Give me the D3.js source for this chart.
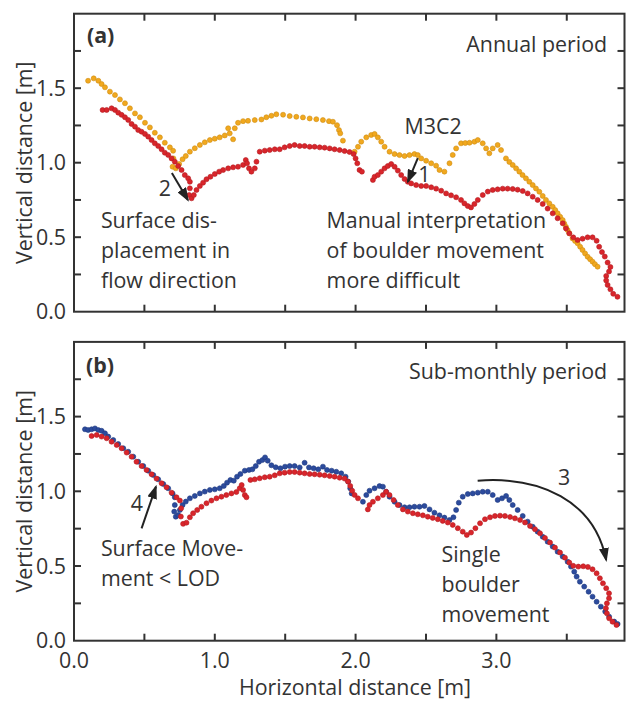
<!DOCTYPE html>
<html>
<head>
<meta charset="utf-8">
<script src="https://cdn.jsdelivr.net/npm/d3@7"></script>
<style>
body { margin: 0; background: #fff; }
text { font-family: "Open Sans", sans-serif; fill: #333; }
</style>
</head>
<body>
<script>
// profile points [horizontal m, vertical m]

// (a) annual period
const orangeA = [[0.10,1.55],[0.14,1.566],[0.173,1.55],[0.196,1.528],[0.22,1.506],[0.255,1.477],[0.291,1.454],[0.326,1.425],[0.362,1.399],[0.397,1.365],[0.433,1.331],[0.468,1.305],[0.504,1.268],[0.539,1.237],[0.574,1.201],[0.61,1.17],[0.645,1.134],[0.681,1.103],[0.704,1.08],[0.706,1.029],[0.70,0.973],[0.723,0.962],[0.747,0.991],[0.771,1.023],[0.794,1.045],[0.823,1.074],[0.858,1.097],[0.894,1.119],[0.929,1.137],[0.965,1.152],[1.0,1.161],[1.035,1.17],[1.071,1.183],[1.095,1.231],[1.106,1.197],[1.13,1.157],[1.142,1.231],[1.165,1.268],[1.201,1.279],[1.236,1.281],[1.284,1.286],[1.331,1.29],[1.366,1.305],[1.402,1.315],[1.437,1.325],[1.485,1.322],[1.532,1.313],[1.579,1.308],[1.626,1.304],[1.674,1.297],[1.721,1.292],[1.768,1.286],[1.811,1.279],[1.839,1.275],[1.868,1.252],[1.882,1.219],[1.891,1.197],[1.91,1.148],[1.993,1.074],[2.017,1.107],[2.04,1.141],[2.076,1.17],[2.111,1.186],[2.135,1.193],[2.158,1.17],[2.182,1.141],[2.206,1.107],[2.241,1.074],[2.277,1.058],[2.312,1.051],[2.348,1.045],[2.383,1.051],[2.418,1.058],[2.442,1.051],[2.466,1.029],[2.501,1.013],[2.537,0.996],[2.572,0.98],[2.596,0.951],[2.631,0.94],[2.667,0.996],[2.69,1.052],[2.714,1.096],[2.749,1.13],[2.779,1.132],[2.809,1.134],[2.844,1.141],[2.868,1.152],[2.903,1.13],[2.927,1.096],[2.95,1.063],[2.974,1.096],[3.009,1.119],[3.033,1.085],[3.068,1.029],[3.092,1.005],[3.116,0.985],[3.14,0.962],[3.163,0.94],[3.186,0.917],[3.21,0.895],[3.234,0.872],[3.258,0.85],[3.281,0.827],[3.305,0.805],[3.329,0.777],[3.352,0.75],[3.376,0.727],[3.40,0.704],[3.418,0.682],[3.435,0.66],[3.453,0.637],[3.471,0.615],[3.482,0.592],[3.494,0.57],[3.506,0.548],[3.518,0.526],[3.541,0.492],[3.559,0.475],[3.577,0.459],[3.595,0.436],[3.612,0.414],[3.63,0.391],[3.648,0.369],[3.666,0.352],[3.683,0.336],[3.70,0.319],[3.719,0.302]];

const redA = [[0.203,1.354],[0.232,1.354],[0.267,1.365],[0.291,1.354],[0.314,1.336],[0.338,1.321],[0.362,1.305],[0.385,1.287],[0.409,1.26],[0.433,1.242],[0.456,1.219],[0.48,1.208],[0.504,1.193],[0.527,1.175],[0.551,1.152],[0.574,1.13],[0.598,1.112],[0.622,1.09],[0.645,1.067],[0.669,1.052],[0.693,1.029],[0.716,1.007],[0.74,0.978],[0.764,0.951],[0.787,0.917],[0.811,0.895],[0.823,0.872],[0.823,0.828],[0.818,0.783],[0.835,0.761],[0.851,0.783],[0.87,0.817],[0.894,0.844],[0.917,0.866],[0.941,0.889],[0.969,0.906],[1.0,0.924],[1.031,0.94],[1.059,0.951],[1.095,0.962],[1.13,0.969],[1.165,0.973],[1.201,0.985],[1.22,1.018],[1.229,0.996],[1.243,0.962],[1.26,0.94],[1.284,0.962],[1.296,1.007],[1.319,1.074],[1.355,1.081],[1.39,1.085],[1.426,1.09],[1.461,1.09],[1.496,1.103],[1.532,1.112],[1.567,1.119],[1.603,1.112],[1.638,1.112],[1.674,1.107],[1.709,1.107],[1.745,1.103],[1.78,1.101],[1.816,1.096],[1.851,1.09],[1.887,1.085],[1.922,1.078],[1.957,1.072],[1.986,1.058],[2.0,1.029],[2.012,0.996],[2.028,0.951],[2.045,0.94],[2.123,0.884],[2.135,0.906],[2.158,0.917],[2.182,0.94],[2.206,0.962],[2.229,0.978],[2.253,0.991],[2.277,0.973],[2.3,0.947],[2.324,0.917],[2.348,0.89],[2.371,0.872],[2.395,0.861],[2.43,0.85],[2.466,0.844],[2.501,0.844],[2.537,0.835],[2.572,0.826],[2.608,0.812],[2.643,0.794],[2.678,0.781],[2.714,0.768],[2.749,0.75],[2.773,0.727],[2.797,0.709],[2.82,0.7],[2.844,0.723],[2.868,0.75],[2.903,0.783],[2.939,0.806],[2.974,0.817],[3.009,0.821],[3.045,0.826],[3.08,0.826],[3.116,0.824],[3.151,0.819],[3.187,0.81],[3.222,0.794],[3.258,0.772],[3.293,0.75],[3.329,0.723],[3.364,0.692],[3.4,0.66],[3.435,0.627],[3.471,0.593],[3.494,0.559],[3.518,0.526],[3.546,0.499],[3.577,0.481],[3.612,0.49],[3.648,0.499],[3.683,0.499],[3.712,0.476],[3.73,0.436],[3.75,0.40],[3.77,0.37],[3.79,0.33],[3.81,0.30],[3.80,0.27],[3.78,0.24],[3.78,0.21],[3.79,0.18],[3.81,0.15],[3.83,0.12],[3.86,0.10]];

// (b) sub-monthly period
const blueB = [[0.078,1.415],[0.10,1.41],[0.125,1.415],[0.149,1.421],[0.173,1.41],[0.196,1.405],[0.22,1.388],[0.243,1.366],[0.279,1.343],[0.314,1.317],[0.35,1.288],[0.385,1.265],[0.421,1.232],[0.456,1.198],[0.492,1.169],[0.527,1.138],[0.563,1.109],[0.598,1.08],[0.634,1.049],[0.669,1.02],[0.70,0.986],[0.716,0.96],[0.716,0.908],[0.712,0.864],[0.723,0.83],[0.74,0.841],[0.752,0.875],[0.771,0.908],[0.794,0.931],[0.823,0.953],[0.858,0.969],[0.894,0.986],[0.929,0.998],[0.965,1.009],[1.0,1.013],[1.035,1.02],[1.064,1.036],[1.087,1.058],[1.111,1.076],[1.135,1.071],[1.158,1.098],[1.182,1.116],[1.213,1.138],[1.243,1.143],[1.267,1.147],[1.291,1.169],[1.314,1.198],[1.338,1.209],[1.357,1.227],[1.376,1.205],[1.402,1.174],[1.433,1.161],[1.466,1.154],[1.499,1.165],[1.532,1.169],[1.567,1.169],[1.603,1.16],[1.638,1.191],[1.669,1.16],[1.702,1.154],[1.735,1.147],[1.768,1.165],[1.797,1.143],[1.83,1.138],[1.863,1.131],[1.898,1.12],[1.929,1.098],[1.948,1.065],[1.962,1.02],[1.972,0.986],[2.052,0.93],[2.076,0.975],[2.099,1.004],[2.135,1.02],[2.17,1.035],[2.194,1.031],[2.217,0.997],[2.241,0.964],[2.277,0.93],[2.312,0.908],[2.348,0.893],[2.383,0.893],[2.418,0.897],[2.454,0.897],[2.489,0.902],[2.525,0.879],[2.56,0.857],[2.596,0.839],[2.631,0.824],[2.667,0.808],[2.695,0.826],[2.714,0.875],[2.733,0.924],[2.761,0.964],[2.797,0.982],[2.832,0.986],[2.868,0.991],[2.903,0.997],[2.939,0.997],[2.974,0.975],[3.009,0.942],[3.04,0.953],[3.069,0.969],[3.092,0.942],[3.116,0.908],[3.151,0.875],[3.187,0.835],[3.222,0.797],[3.258,0.763],[3.293,0.73],[3.329,0.696],[3.364,0.663],[3.4,0.63],[3.435,0.596],[3.471,0.563],[3.506,0.529],[3.53,0.496],[3.553,0.462],[3.57,0.429],[3.593,0.395],[3.624,0.362],[3.655,0.328],[3.683,0.295],[3.712,0.261],[3.742,0.228],[3.773,0.195],[3.801,0.161],[3.837,0.128],[3.861,0.112]];

const redB = [[0.125,1.37],[0.161,1.377],[0.196,1.366],[0.232,1.355],[0.267,1.332],[0.303,1.31],[0.338,1.288],[0.374,1.259],[0.409,1.232],[0.444,1.198],[0.48,1.169],[0.515,1.143],[0.551,1.114],[0.586,1.085],[0.622,1.054],[0.657,1.027],[0.693,0.991],[0.728,0.96],[0.752,0.938],[0.761,0.886],[0.759,0.831],[0.775,0.782],[0.799,0.79],[0.823,0.826],[0.846,0.853],[0.875,0.875],[0.905,0.897],[0.941,0.92],[0.976,0.938],[1.012,0.953],[1.047,0.964],[1.082,0.975],[1.118,0.986],[1.153,0.995],[1.177,1.02],[1.191,1.042],[1.201,1.009],[1.213,0.975],[1.225,0.96],[1.253,1.076],[1.284,1.08],[1.319,1.087],[1.355,1.094],[1.39,1.098],[1.426,1.107],[1.461,1.12],[1.496,1.125],[1.532,1.129],[1.567,1.129],[1.603,1.125],[1.638,1.12],[1.674,1.116],[1.709,1.114],[1.745,1.111],[1.78,1.107],[1.816,1.102],[1.851,1.098],[1.887,1.091],[1.922,1.085],[1.946,1.065],[1.962,1.036],[1.976,1.004],[1.993,0.976],[2.017,0.953],[2.087,0.879],[2.099,0.908],[2.123,0.93],[2.158,0.953],[2.194,0.975],[2.217,0.997],[2.241,0.975],[2.27,0.942],[2.3,0.908],[2.336,0.879],[2.371,0.864],[2.407,0.853],[2.442,0.846],[2.478,0.839],[2.513,0.83],[2.548,0.822],[2.584,0.813],[2.619,0.802],[2.655,0.791],[2.69,0.775],[2.726,0.753],[2.761,0.73],[2.79,0.708],[2.82,0.724],[2.851,0.753],[2.884,0.786],[2.919,0.813],[2.955,0.826],[2.99,0.835],[3.026,0.837],[3.061,0.835],[3.097,0.828],[3.132,0.819],[3.168,0.808],[3.203,0.791],[3.239,0.768],[3.274,0.746],[3.31,0.719],[3.345,0.688],[3.381,0.657],[3.416,0.623],[3.452,0.59],[3.487,0.556],[3.518,0.523],[3.546,0.501],[3.582,0.496],[3.617,0.498],[3.65,0.494],[3.683,0.478],[3.712,0.451],[3.735,0.418],[3.757,0.384],[3.78,0.351],[3.80,0.317],[3.80,0.284],[3.785,0.25],[3.778,0.217],[3.785,0.183],[3.801,0.15],[3.825,0.127],[3.853,0.105]];

const xTicks = [0.5, 1.0, 1.5, 2.0, 2.5, 3.0, 3.5];
const xTickLabels = [0.0, 1.0, 2.0, 3.0];
const yTicks = [0.25, 0.5, 0.75, 1.0, 1.25, 1.5, 1.75];
const yTickLabels = [0.0, 0.5, 1.0, 1.5];

const width = 627, height = 702;
const fs = 21.4;
const tickLen = 7;

var x = d3.scaleLinear().domain([0, 3.91]).range([74, 624.5]);

var svg = d3.select("body").append("svg")
    .attr("width", width)
    .attr("height", height);

var defs = svg.append("defs");
defs.append("marker")
    .attr("id", "head")
    .attr("markerUnits", "userSpaceOnUse")
    .attr("viewBox", "0 0 14 10")
    .attr("markerWidth", 14)
    .attr("markerHeight", 10)
    .attr("refX", 12)
    .attr("refY", 5)
    .attr("orient", "auto")
  .append("path")
    .attr("d", "M0,0L14,5L0,10Z")
    .attr("fill", "#222");

function drawPanel(y, series, labels, arrows) {
    var g = svg.append("g");

    // dots
    series.forEach(function(s) {
        g.append("g").selectAll("circle")
            .data(s.data)
            .enter().append("circle")
            .attr("cx", function(d) { return x(d[0]); })
            .attr("cy", function(d) { return y(d[1]); })
            .attr("r", 2.5)
            .attr("fill", s.fill)
            .attr("stroke", s.stroke)
            .attr("stroke-width", 0.6);
    });

    // frame
    g.append("rect")
        .attr("x", x(0)).attr("y", y(2))
        .attr("width", x(3.91) - x(0))
        .attr("height", y(0) - y(2))
        .attr("fill", "none")
        .attr("stroke", "#333")
        .attr("stroke-width", 2);

    // inward ticks on all four sides
    g.append("g").selectAll("line").data(xTicks).enter().append("line")
        .attr("x1", function(d) { return x(d); }).attr("x2", function(d) { return x(d); })
        .attr("y1", y(0)).attr("y2", y(0) - tickLen)
        .attr("stroke", "#333").attr("stroke-width", 2);
    g.append("g").selectAll("line").data(xTicks).enter().append("line")
        .attr("x1", function(d) { return x(d); }).attr("x2", function(d) { return x(d); })
        .attr("y1", y(2)).attr("y2", y(2) + tickLen)
        .attr("stroke", "#333").attr("stroke-width", 2);
    g.append("g").selectAll("line").data(yTicks).enter().append("line")
        .attr("y1", function(d) { return y(d); }).attr("y2", function(d) { return y(d); })
        .attr("x1", x(0)).attr("x2", x(0) + tickLen)
        .attr("stroke", "#333").attr("stroke-width", 2);
    g.append("g").selectAll("line").data(yTicks).enter().append("line")
        .attr("y1", function(d) { return y(d); }).attr("y2", function(d) { return y(d); })
        .attr("x1", x(3.91)).attr("x2", x(3.91) - tickLen)
        .attr("stroke", "#333").attr("stroke-width", 2);

    g.append("g").selectAll("text").data(yTickLabels).enter().append("text")
        .attr("x", 66)
        .attr("y", function(d) { return y(d); })
        .attr("dy", "0.36em")
        .attr("text-anchor", "end")
        .attr("font-size", fs)
        .text(function(d) { return d.toFixed(1); });

    g.append("text")
        .attr("transform", "translate(32," + y(1) + ") rotate(-90)")
        .attr("text-anchor", "middle")
        .attr("font-size", fs)
        .text("Vertical distance [m]");

    // annotations
    labels.forEach(function(l) {
        var t = g.append("text")
            .attr("x", x(l.x))
            .attr("y", y(l.y))
            .attr("font-size", fs)
            .attr("text-anchor", l.anchor || "start");
        if (l.bold) t.attr("font-weight", "bold");
        l.lines.forEach(function(line, i) {
            t.append("tspan")
                .attr("x", x(l.x))
                .attr("dy", i == 0 ? 0 : 30)
                .text(line);
        });
    });

    arrows.forEach(function(a) {
        var p = d3.path();
        p.moveTo(x(a[0][0]), y(a[0][1]));
        if (a.length == 2) {
            p.lineTo(x(a[1][0]), y(a[1][1]));
        } else {
            p.bezierCurveTo(x(a[1][0]), y(a[1][1]), x(a[2][0]), y(a[2][1]), x(a[3][0]), y(a[3][1]));
        }
        g.append("path")
            .attr("d", p.toString())
            .attr("fill", "none")
            .attr("stroke", "#222")
            .attr("stroke-width", 2)
            .attr("marker-end", "url(#head)");
    });

    return g;
}

var yA = d3.scaleLinear().domain([0, 2]).range([311.7, 13.7]);
var yB = d3.scaleLinear().domain([0, 2]).range([640.7, 341.9]);

drawPanel(yA,
    [{data: orangeA, fill: "#f1a81e", stroke: "#cf8d12"},
     {data: redA, fill: "#d9252b", stroke: "#b41c22"}],
    [{x: 0.092, y: 1.802, lines: ["(a)"], bold: true},
     {x: 3.787, y: 1.743, lines: ["Annual period"], anchor: "end"},
     {x: 0.191, y: 0.562, lines: ["Surface dis-", "placement in", "flow direction"]},
     {x: 1.794, y: 0.562, lines: ["Manual interpretation", "of boulder movement", "more difficult"]},
     {x: 2.348, y: 1.193, lines: ["M3C2"]},
     {x: 0.645, y: 0.777, lines: ["2"], anchor: "middle"},
     {x: 2.489, y: 0.870, lines: ["1"], anchor: "middle"}],
    [[[0.695, 0.931], [0.809, 0.750]],
     [[2.442, 1.030], [2.371, 0.872]]]);

drawPanel(yB,
    [{data: blueB, fill: "#2c4b9d", stroke: "#203b82"},
     {data: redB, fill: "#d9252b", stroke: "#b41c22"}],
    [{x: 0.085, y: 1.792, lines: ["(b)"], bold: true},
     {x: 3.787, y: 1.752, lines: ["Sub-monthly period"], anchor: "end"},
     {x: 0.191, y: 0.567, lines: ["Surface Move-", "ment < LOD"]},
     {x: 2.61, y: 0.527, lines: ["Single", "boulder", "movement"]},
     {x: 0.447, y: 0.868, lines: ["4"], anchor: "middle"},
     {x: 3.482, y: 1.042, lines: ["3"], anchor: "middle"}],
    [[[0.48, 0.752], [0.582, 1.031]],
     [[2.867, 1.071], [3.305, 1.102], [3.695, 0.942], [3.780, 0.540]]]);

// x tick labels and title under panel (b)
svg.append("g").selectAll("text").data(xTickLabels).enter().append("text")
    .attr("x", function(d) { return x(d); })
    .attr("y", 668)
    .attr("text-anchor", "middle")
    .attr("font-size", fs)
    .text(function(d) { return d.toFixed(1); });

svg.append("text")
    .attr("x", 355)
    .attr("y", 695)
    .attr("text-anchor", "middle")
    .attr("font-size", fs)
    .text("Horizontal distance [m]");
</script>
</body>
</html>
